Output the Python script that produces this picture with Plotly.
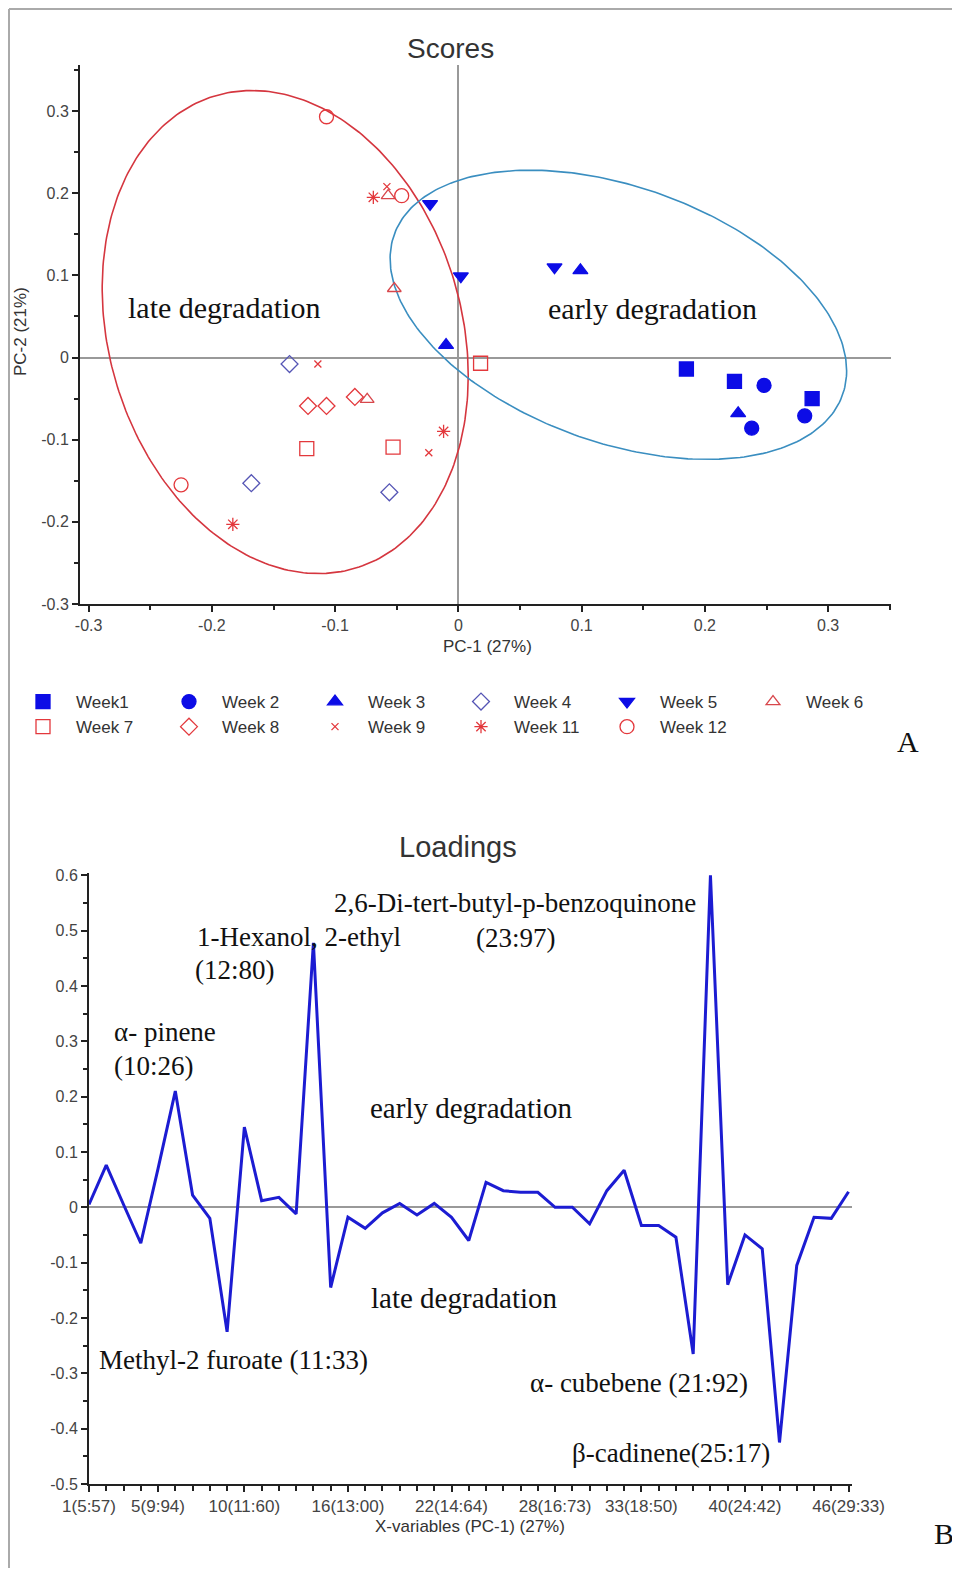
import numpy as np
import plotly.graph_objects as go

# page body adds an 8px margin, so the figure is 16px smaller than the window
OFF = 8
W, H = 960 - OFF, 1576 - 2 * OFF

# ---------------- Scores data (PC-1, PC-2) ----------------
weeks = ["Week1", "Week 2", "Week 3", "Week 4", "Week 5", "Week 6",
         "Week 7", "Week 8", "Week 9", "Week 11", "Week 12"]
pc1 = {
    "Week1":   [0.185, 0.224, 0.287],
    "Week 2":  [0.248, 0.238, 0.281],
    "Week 3":  [0.099, 0.227, -0.010],
    "Week 4":  [-0.137, -0.168, -0.056],
    "Week 5":  [0.078, 0.002, -0.023],
    "Week 6":  [-0.052, -0.057, -0.074],
    "Week 7":  [-0.123, -0.053, 0.018],
    "Week 8":  [-0.122, -0.107, -0.084],
    "Week 9":  [-0.114, -0.024, -0.058],
    "Week 11": [-0.069, -0.012, -0.183],
    "Week 12": [-0.107, -0.046, -0.225],
}
pc2 = {
    "Week1":   [-0.014, -0.029, -0.050],
    "Week 2":  [-0.034, -0.086, -0.071],
    "Week 3":  [0.106, -0.068, 0.015],
    "Week 4":  [-0.008, -0.153, -0.164],
    "Week 5":  [0.110, 0.099, 0.187],
    "Week 6":  [0.084, 0.197, -0.051],
    "Week 7":  [-0.111, -0.109, -0.007],
    "Week 8":  [-0.059, -0.059, -0.048],
    "Week 9":  [-0.008, -0.116, 0.208],
    "Week 11": [0.195, -0.090, -0.203],
    "Week 12": [0.293, 0.197, -0.155],
}
# confidence ellipses: centre x, centre y, half-width, half-height, covariance term
late_ellipse = [-0.1405, 0.031, 0.1485, 0.294, -0.0079]
early_ellipse = [0.1298, 0.052, 0.1852, 0.176, -0.01264]

# ---------------- Loadings data ----------------
var_index = list(range(1, 46))
loadings = [0.005, 0.076, 0.005, -0.065, 0.070, 0.210, 0.022, -0.020, -0.225, 0.145,
            0.012, 0.018, -0.012, 0.478, -0.145, -0.018, -0.038, -0.010, 0.007, -0.014,
            0.007, -0.018, -0.060, 0.045, 0.030, 0.027, 0.027, 0.000, 0.000, -0.030,
            0.030, 0.067, -0.033, -0.033, -0.054, -0.265, 0.600, -0.140, -0.050, -0.075,
            -0.425, -0.105, -0.018, -0.020, 0.028]
xtick_pos = [1, 5, 10, 16, 22, 28, 33, 39, 45]
xtick_text = ["1(5:57)", "5(9:94)", "10(11:60)", "16(13:00)", "22(14:64)",
              "28(16:73)", "33(18:50)", "40(24:42)", "46(29:33)"]

BLUE = "#0c0ce6"
RED = "#e3383c"
styles = {
    "Week1":   dict(symbol="square", color=BLUE, size=14),
    "Week 2":  dict(symbol="circle", color=BLUE, size=14),
    "Week 3":  dict(symbol="triangle-up", color=BLUE, size=13),
    "Week 4":  dict(symbol="diamond-open", color="#5555b5", size=13),
    "Week 5":  dict(symbol="triangle-down", color=BLUE, size=13),
    "Week 6":  dict(symbol="triangle-up-open", color="#d8474c", size=12),
    "Week 7":  dict(symbol="square-open", color=RED, size=14),
    "Week 8":  dict(symbol="diamond-open", color=RED, size=13),
    "Week 9":  dict(symbol="x-thin-open", color=RED, size=7),
    "Week 11": dict(symbol="asterisk-open", color=RED, size=11),
    "Week 12": dict(symbol="circle-open", color=RED, size=14),
}

SANS = "Liberation Sans, Arial, sans-serif"
SERIF = "Liberation Serif, Times New Roman, serif"
TXT = "#333333"

fig = go.Figure()


def ellipse(params):
    cx, cy, hx, hy, sxy = params
    t = np.linspace(0, 2 * np.pi, 300)
    c = sxy / hx
    d = np.sqrt(hy ** 2 - c ** 2)
    return cx + hx * np.cos(t), cy + c * np.cos(t) + d * np.sin(t)


ex, ey = ellipse(late_ellipse)
fig.add_trace(go.Scatter(x=ex, y=ey, mode="lines", line=dict(color="#d5363f", width=1.6),
                         showlegend=False, hoverinfo="skip", xaxis="x", yaxis="y"))
ex, ey = ellipse(early_ellipse)
fig.add_trace(go.Scatter(x=ex, y=ey, mode="lines", line=dict(color="#3a8ec0", width=1.6),
                         showlegend=False, hoverinfo="skip", xaxis="x", yaxis="y"))

for w in weeks:
    s = styles[w]
    fig.add_trace(go.Scatter(
        x=pc1[w], y=pc2[w], mode="markers", name=w, xaxis="x", yaxis="y",
        marker=dict(symbol=s["symbol"], size=s["size"], color=s["color"],
                    line=dict(color=s["color"], width=1.3)),
    ))

fig.add_trace(go.Scatter(x=var_index, y=loadings, mode="lines", xaxis="x2", yaxis="y2",
                         line=dict(color="#1c1cd2", width=3), showlegend=False))


def px(x):
    return (x - OFF) / W


def py(y):
    return 1 - (y - OFF) / H


axis_common = dict(showline=True, linecolor="#222", linewidth=2, ticks="outside",
                   ticklen=6, tickwidth=2, tickcolor="#222", showgrid=False,
                   tickfont=dict(family=SANS, size=16, color="#444"))

sc_ticks = [-0.3, -0.2, -0.1, 0, 0.1, 0.2, 0.3]
sc_text = ["-0.3", "-0.2", "-0.1", "0", "0.1", "0.2", "0.3"]

ld_ticks = [0.6, 0.5, 0.4, 0.3, 0.2, 0.1, 0, -0.1, -0.2, -0.3, -0.4, -0.5]
ld_text = ["0.6", "0.5", "0.4", "0.3", "0.2", "0.1", "0", "-0.1", "-0.2", "-0.3", "-0.4", "-0.5"]

xaxis2_style = dict(axis_common)
xaxis2_style["tickfont"] = dict(family=SANS, size=17, color="#444")

fig.update_layout(
    width=W, height=H, autosize=False,
    margin=dict(l=0, r=0, t=0, b=0, autoexpand=False),
    paper_bgcolor="white", plot_bgcolor="white",
    xaxis=dict(domain=[px(80), px(891)], range=[-0.307, 0.351], anchor="y",
               tickmode="array", tickvals=sc_ticks, ticktext=sc_text,
               zeroline=True, zerolinecolor="#999", zerolinewidth=1.5,
               minor=dict(dtick=0.05, tick0=0, ticks="outside", ticklen=4, tickwidth=2, tickcolor="#222"),
               **axis_common),
    yaxis=dict(domain=[py(604), py(65)], range=[-0.3, 0.356], anchor="x",
               tickmode="array", tickvals=sc_ticks, ticktext=sc_text,
               zeroline=True, zerolinecolor="#999", zerolinewidth=1.5,
               minor=dict(dtick=0.05, tick0=0, ticks="outside", ticklen=4, tickwidth=2, tickcolor="#222"),
               **axis_common),
    xaxis2=dict(domain=[px(89), px(852)], range=[1, 45.2], anchor="y2",
                tickmode="array", tickvals=xtick_pos, ticktext=xtick_text,
                zeroline=False,
                minor=dict(tickmode="array", tickvals=var_index, ticks="outside", ticklen=5,
                           tickwidth=2, tickcolor="#222"),
                **xaxis2_style),
    yaxis2=dict(domain=[py(1484), py(873)], range=[-0.5, 0.604], anchor="x2",
                tickmode="array", tickvals=ld_ticks, ticktext=ld_text,
                zeroline=True, zerolinecolor="#999", zerolinewidth=1.5,
                minor=dict(dtick=0.05, tick0=0, ticks="outside", ticklen=4, tickwidth=2, tickcolor="#222"),
                **axis_common),
    legend=dict(orientation="h", x=px(10), y=py(684), xanchor="left", yanchor="top",
                entrywidth=75, entrywidthmode="pixels", itemwidth=56,
                font=dict(family=SANS, size=17, color=TXT), bgcolor="rgba(0,0,0,0)",
                itemsizing="trace", tracegroupgap=0),
    showlegend=True,
)

ann = []


def paper_text(text, x, y, size, family=SANS, angle=0, color=TXT, xanchor="center"):
    ann.append(dict(text=text, x=px(x), y=py(y), xref="paper", yref="paper", showarrow=False,
                    xanchor=xanchor, yanchor="middle", textangle=angle,
                    font=dict(family=family, size=size, color=color)))


paper_text("Scores", 450, 48, 28)
paper_text("Loadings", 458, 847, 29)
paper_text("PC-1 (27%)", 487, 646, 17)
paper_text("PC-2 (21%)", 20, 332, 17, angle=-90)
paper_text("X-variables (PC-1) (27%)", 470, 1526, 17)
paper_text("A", 908, 741, 30, family=SERIF, color="#111")
paper_text("B", 944, 1533, 30, family=SERIF, color="#111")


def data_text(text, x, y, size, xr, yr, xanchor="center"):
    ann.append(dict(text=text, x=x, y=y, xref=xr, yref=yr, showarrow=False,
                    xanchor=xanchor, yanchor="middle",
                    font=dict(family=SERIF, size=size, color="#111")))


data_text("late degradation", -0.190, 0.061, 30, "x", "y")
data_text("early degradation", 0.1575, 0.060, 30, "x", "y")

data_text("2,6-Di-tert-butyl-p-benzoquinone", 15.05, 0.550, 27, "x2", "y2", "left")
data_text("(23:97)", 25.71, 0.486, 27, "x2", "y2")
data_text("1-Hexanol, 2-ethyl", 7.14, 0.489, 27, "x2", "y2", "left")
data_text("(12:80)", 7.02, 0.428, 27, "x2", "y2", "left")
data_text("α- pinene", 2.31, 0.317, 27, "x2", "y2", "left")
data_text("(10:26)", 2.31, 0.255, 27, "x2", "y2", "left")
data_text("early degradation", 23.15, 0.179, 29, "x2", "y2")
data_text("late degradation", 22.74, -0.164, 29, "x2", "y2")
data_text("Methyl-2 furoate (11:33)", 1.48, -0.276, 27, "x2", "y2", "left")
data_text("α- cubebene (21:92)", 26.44, -0.318, 27, "x2", "y2", "left")
data_text("β-cadinene(25:17)", 28.85, -0.4445, 27, "x2", "y2", "left")

fig.update_layout(annotations=ann)

# image border (left and top edges)
fig.add_shape(type="line", xref="paper", yref="paper", x0=px(9), x1=px(9), y0=0, y1=py(9),
              line=dict(color="#aaaaaa", width=2))
fig.add_shape(type="line", xref="paper", yref="paper", x0=px(9), x1=1, y0=py(9), y1=py(9),
              line=dict(color="#aaaaaa", width=2))

fig.write_html("out.html")
